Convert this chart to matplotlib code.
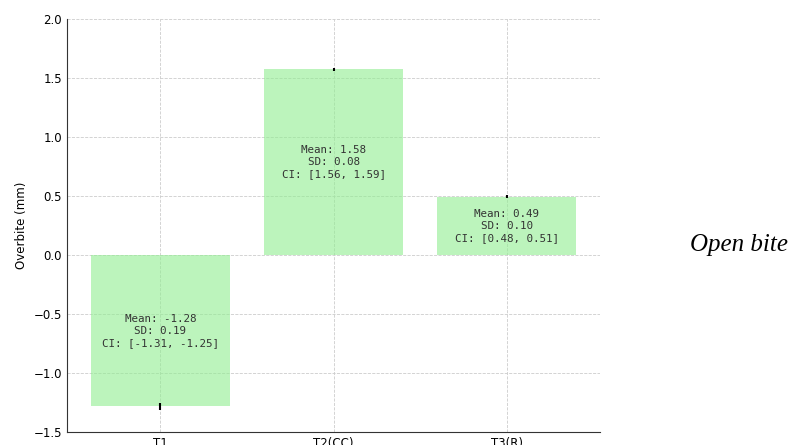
import matplotlib
matplotlib.use("Agg")
import matplotlib.pyplot as plt
import numpy as np

groups = ["T1", "T2(CC)", "T3(R)"]
means = [-1.28, 1.58, 0.49]
sds = [0.19, 0.08, 0.10]
ci_low = [-1.31, 1.56, 0.48]
ci_high = [-1.25, 1.59, 0.51]

fig = plt.figure(figsize=(7.95, 4.45), dpi=100)
ax = fig.add_axes([0.084, 0.029, 0.671, 0.928])

x = np.arange(len(groups))
yerr = [np.array(means) - np.array(ci_low), np.array(ci_high) - np.array(means)]
ax.bar(x, means, width=0.8, color="lightgreen", alpha=0.6, zorder=2)
ax.errorbar(x, means, yerr=yerr, fmt="none", ecolor="black", elinewidth=1.5, capsize=0, zorder=3)

for i in range(len(groups)):
    txt = f"Mean: {means[i]:.2f}\nSD: {sds[i]:.2f}\nCI: [{ci_low[i]:.2f}, {ci_high[i]:.2f}]"
    ax.text(x[i], means[i] / 2, txt, ha="center", va="center", family="DejaVu Sans Mono",
            fontsize=7.8, color="#333333", linespacing=1.25, zorder=4)

ax.set_xticks(x)
ax.set_xticklabels(groups, fontsize=8.5)
ax.set_ylim(-1.5, 2.0)
ax.set_yticks(np.arange(-1.5, 2.01, 0.5))
ax.tick_params(axis="y", labelsize=8.5, length=0)
ax.tick_params(axis="x", length=0)
ax.set_ylabel("Overbite (mm)", fontsize=8.5)
ax.grid(True, linestyle="--", color="#cccccc", linewidth=0.6, zorder=1)
ax.set_axisbelow(True)
for s in ["top", "right"]:
    ax.spines[s].set_visible(False)
for s in ["left", "bottom"]:
    ax.spines[s].set_color("#333333")

fig.text(0.868, 0.449, "Open bite", fontsize=18, style="italic", family="Liberation Serif",
         va="center", ha="left")

fig.savefig("out.png", dpi=100)
